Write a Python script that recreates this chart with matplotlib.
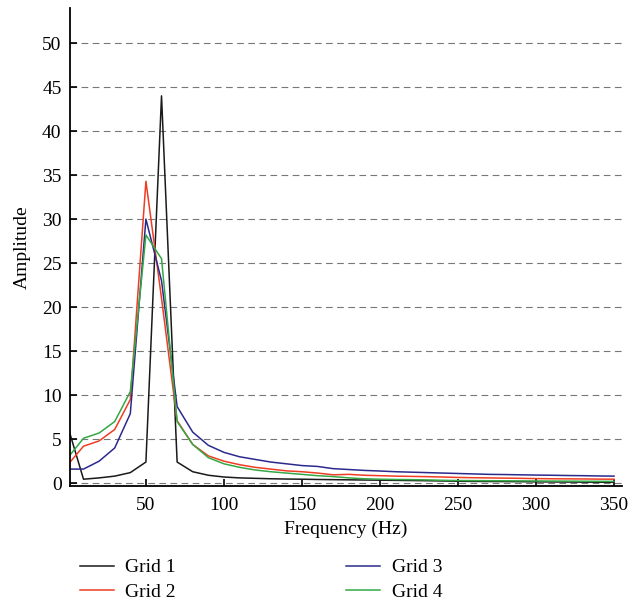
import matplotlib
matplotlib.use("Agg")
import matplotlib.pyplot as plt

# frequency bins (Hz)
freq = list(range(0, 360, 10))

grid1 = [6.4, 0.45, 0.6, 0.8, 1.2, 2.4, 44.0, 2.4, 1.3, 0.9,
         0.7, 0.6, 0.55, 0.5, 0.47, 0.45, 0.42, 0.4, 0.38, 0.36,
         0.34, 0.32, 0.3, 0.28, 0.25, 0.22, 0.2, 0.19, 0.18, 0.17,
         0.15, 0.14, 0.13, 0.12, 0.11, 0.1]
grid2 = [2.1, 4.2, 4.8, 6.1, 9.5, 34.3, 21.0, 7.1, 4.4, 3.1,
         2.5, 2.1, 1.8, 1.6, 1.4, 1.3, 1.15, 0.95, 1.0, 0.9,
         0.85, 0.8, 0.77, 0.74, 0.7, 0.65, 0.62, 0.6, 0.57, 0.55,
         0.52, 0.5, 0.49, 0.48, 0.46, 0.45]
grid3 = [1.6, 1.6, 2.5, 4.0, 7.9, 30.0, 23.0, 8.7, 5.8, 4.3,
         3.5, 3.0, 2.7, 2.4, 2.2, 2.0, 1.9, 1.65, 1.55, 1.45,
         1.38, 1.3, 1.25, 1.2, 1.15, 1.1, 1.05, 1.0, 0.98, 0.95,
         0.92, 0.9, 0.87, 0.85, 0.82, 0.8]
grid4 = [2.9, 5.1, 5.7, 7.0, 10.4, 28.2, 25.5, 7.0, 4.4, 2.9,
         2.2, 1.8, 1.5, 1.3, 1.15, 1.0, 0.85, 0.75, 0.6, 0.5,
         0.45, 0.42, 0.4, 0.37, 0.33, 0.3, 0.29, 0.28, 0.27, 0.26,
         0.25, 0.24, 0.23, 0.22, 0.21, 0.2]

series = [
    ("Grid 1", grid1, "#1a1a1a"),
    ("Grid 2", grid2, "#ee3d23"),
    ("Grid 3", grid3, "#2b2a8c"),
    ("Grid 4", grid4, "#35a846"),
]

plt.rcParams["font.family"] = ["Liberation Serif", "DejaVu Serif"]
plt.rcParams["font.size"] = 14

fig = plt.figure(figsize=(6.3, 6.02), dpi=100)
ax = fig.add_axes([0.111, 0.193, 0.876, 0.794])

for name, vals, col in series:
    ax.plot(freq, vals, color=col, lw=1.1, label=name)

ax.set_xlim(1.3, 355)
ax.set_ylim(-0.3, 54)
ax.set_xticks(range(50, 351, 50))
ax.set_yticks(range(0, 51, 5))
ax.yaxis.grid(True, linestyle=(0, (6, 4)), color="#777777", lw=0.8)
ax.set_axisbelow(True)
ax.tick_params(direction="in", length=5, width=1.2, labelsize=14)
ax.tick_params(axis="x", pad=8)
ax.tick_params(axis="y", pad=6)

for s in ("top", "right"):
    ax.spines[s].set_visible(False)
for s in ("left", "bottom"):
    ax.spines[s].set_linewidth(1.3)

ax.set_xlabel("Frequency (Hz)", fontsize=14, labelpad=5)
ax.set_ylabel("Amplitude", fontsize=14, labelpad=8)

fig.legend(loc="upper left", bbox_to_anchor=(0.111, 0.088), ncol=2,
           frameon=False, fontsize=14, handlelength=1.75, borderpad=0,
           columnspacing=8.75, labelspacing=0.35, handletextpad=0.6)

fig.savefig("out.png", dpi=100)
